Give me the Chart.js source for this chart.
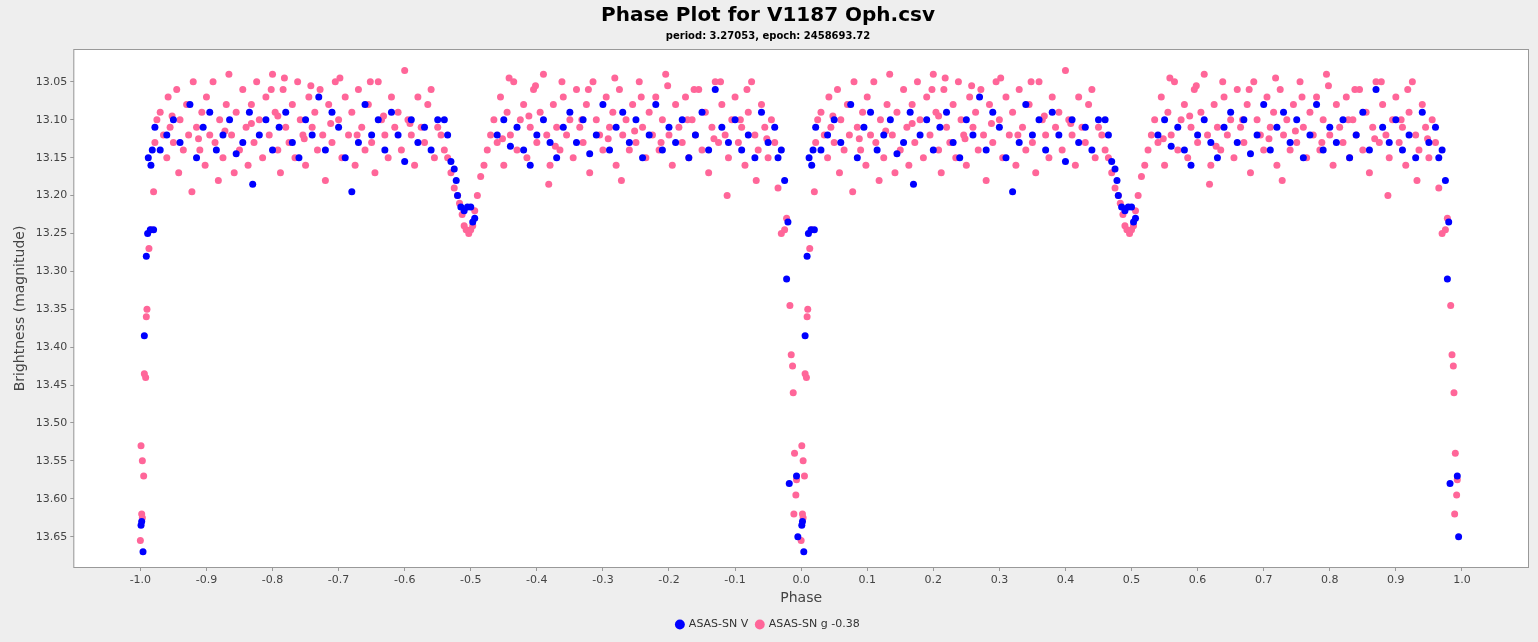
<!DOCTYPE html>
<html>
<head>
<meta charset="utf-8">
<script src="https://cdn.jsdelivr.net/npm/chart.js@4/dist/chart.umd.min.js"></script>
<style>
html,body{margin:0;padding:0;background:#eeeeee;}
#wrap{width:1538px;height:642px;}
</style>
</head>
<body>
<div id="wrap"><canvas id="phaseChart"></canvas></div>
<script>
// phase 0..1 values (plotted again at phase-1)
const vPhase = [0.03,0.04,0.05,0.06,0.075,0.085,0.095,0.105,0.115,0.125,0.135,0.145,0.155,0.165,0.17,0.18,0.19,0.2,0.21,0.22,0.23,0.24,0.25,0.26,0.27,0.28,0.29,0.3,0.31,0.32,0.33,0.34,0.35,0.36,0.37,0.38,0.39,0.4,0.41,0.42,0.43,0.44,0.45,
  0.46,0.465,0.47,0.475,0.478,0.48,0.485,0.49,0.495,0.5,0.503,0.506,
  0.54,0.55,0.56,0.57,0.58,0.59,0.6,0.61,0.62,0.63,0.64,0.65,0.66,0.67,0.68,0.69,0.7,0.71,0.72,0.73,0.74,0.75,0.76,0.77,0.78,0.79,0.8,0.81,0.82,0.83,0.84,0.85,0.86,0.87,0.88,0.89,0.9,0.91,0.92,0.93,0.94,0.95,0.96,0.965,0.97,
  0.975,0.978,0.98,0.982,0.993,0.995,0.001,0.002,0.004,0.006,0.009,0.011,0.015,0.02,0.012,0.016,0.018,0.022];
const vMag = [13.14,13.12,13.10,13.13,13.08,13.15,13.11,13.09,13.14,13.12,13.10,13.145,13.13,13.09,13.185,13.12,13.10,13.14,13.11,13.09,13.13,13.15,13.10,13.12,13.07,13.14,13.09,13.11,13.15,13.195,13.13,13.08,13.12,13.10,13.14,13.09,13.12,13.155,13.10,13.13,13.11,13.14,13.10,
  13.10,13.12,13.155,13.165,13.18,13.20,13.215,13.22,13.215,13.215,13.235,13.23,
  13.12,13.10,13.135,13.11,13.14,13.16,13.12,13.10,13.13,13.15,13.11,13.09,13.13,13.10,13.145,13.12,13.08,13.14,13.11,13.09,13.13,13.10,13.15,13.12,13.08,13.14,13.11,13.13,13.10,13.15,13.12,13.09,13.14,13.06,13.11,13.13,13.10,13.14,13.12,13.15,13.09,13.13,13.11,13.15,13.14,
  13.18,13.31,13.235,13.58,13.57,13.65,13.635,13.63,13.67,13.385,13.28,13.25,13.245,13.245,13.15,13.16,13.14,13.11];

const gPhase = [0.97,0.975,0.978,0.983,0.985,0.987,0.988,0.99,0.989,0.992,0.993,
  0.0,0.002,0.003,0.001,0.003,0.005,0.006,0.008,0.009,0.01,0.013,0.016,0.02,0.022,0.025,
  0.47,0.475,0.48,0.483,0.487,0.49,0.493,0.497,0.5,0.503,0.506,0.51,0.515,0.52,0.465,0.46,0.525,0.53,
  0.03,0.035,0.04,0.042,0.045,0.05,0.055,0.058,0.06,0.065,0.07,0.073,0.078,0.08,0.085,0.09,0.093,0.098,0.1,0.105,0.11,0.113,0.118,0.12,0.125,0.13,0.134,0.138,0.142,0.145,0.15,0.155,0.16,0.163,0.168,0.172,0.176,0.18,0.185,0.19,0.195,0.2,0.204,0.208,0.212,0.216,0.22,0.225,0.23,0.234,0.238,0.242,0.246,0.25,0.255,0.26,0.264,0.268,0.272,0.276,0.28,0.285,0.29,0.295,0.3,0.305,0.31,0.315,0.32,0.325,0.33,0.335,0.34,0.345,0.35,0.355,0.36,0.365,0.37,0.375,0.38,0.385,0.39,0.395,0.4,0.405,0.41,0.415,0.42,0.425,0.43,0.435,0.44,0.445,0.45,0.455,
  0.048,0.088,0.128,0.168,0.208,0.248,0.288,0.328,0.368,0.408,0.198,0.218,0.258,0.348,0.302,
  0.535,0.54,0.545,0.55,0.555,0.56,0.565,0.57,0.575,0.58,0.585,0.59,0.595,0.6,0.605,0.61,0.615,0.62,0.625,0.63,0.635,0.64,0.645,0.65,0.655,0.66,0.665,0.67,0.675,0.68,0.685,0.69,0.695,0.7,0.705,0.71,0.715,0.72,0.725,0.73,0.735,0.74,0.745,0.75,0.755,0.76,0.765,0.77,0.775,0.78,0.785,0.79,0.795,0.8,0.805,0.81,0.815,0.82,0.825,0.83,0.835,0.84,0.845,0.85,0.855,0.86,0.865,0.87,0.875,0.88,0.885,0.89,0.895,0.9,0.905,0.91,0.915,0.92,0.925,0.93,0.935,0.94,0.945,0.95,0.955,0.96,0.965,
  0.558,0.598,0.638,0.678,0.718,0.758,0.798,0.838,0.878,0.918,0.548,0.588,0.628,0.668,0.708,0.748,0.788,0.828,0.868,0.908,0.948,0.618,0.728,0.888,0.932];
const gMag = [13.25,13.245,13.23,13.345,13.41,13.425,13.46,13.54,13.62,13.595,13.575,
  13.655,13.62,13.625,13.53,13.55,13.57,13.435,13.44,13.36,13.35,13.27,13.245,13.195,13.13,13.10,
  13.17,13.19,13.20,13.21,13.225,13.24,13.245,13.25,13.245,13.24,13.22,13.20,13.175,13.16,13.15,13.14,13.14,13.12,
  13.09,13.12,13.15,13.07,13.11,13.13,13.06,13.17,13.10,13.14,13.08,13.12,13.195,13.05,13.11,13.14,13.09,13.16,13.07,13.12,13.05,13.13,13.18,13.10,13.15,13.08,13.04,13.12,13.17,13.09,13.14,13.06,13.11,13.16,13.08,13.13,13.05,13.10,13.15,13.07,13.12,13.04,13.09,13.14,13.17,13.06,13.11,13.13,13.08,13.15,13.05,13.10,13.12,13.16,13.07,13.11,13.09,13.14,13.06,13.12,13.18,13.08,13.13,13.05,13.10,13.15,13.07,13.12,13.09,13.16,13.06,13.11,13.14,13.08,13.13,13.17,13.05,13.10,13.12,13.15,13.07,13.11,13.09,13.14,13.035,13.10,13.12,13.16,13.07,13.11,13.13,13.08,13.06,13.15,13.11,13.12,
  13.095,13.125,13.115,13.105,13.095,13.125,13.105,13.12,13.095,13.105,13.06,13.045,13.055,13.05,13.045,
  13.10,13.13,13.07,13.16,13.09,13.12,13.05,13.14,13.10,13.08,13.15,13.11,13.06,13.13,13.09,13.04,13.12,13.16,13.08,13.11,13.14,13.07,13.12,13.10,13.15,13.06,13.11,13.13,13.08,13.17,13.05,13.10,13.12,13.14,13.07,13.11,13.09,13.16,13.06,13.12,13.10,13.14,13.08,13.13,13.05,13.11,13.15,13.09,13.12,13.07,13.14,13.10,13.04,13.12,13.16,13.08,13.11,13.13,13.07,13.15,13.10,13.12,13.06,13.14,13.09,13.17,13.11,13.05,13.13,13.08,13.12,13.15,13.10,13.07,13.13,13.11,13.16,13.09,13.05,13.12,13.14,13.08,13.11,13.15,13.10,13.13,13.19,
  13.045,13.055,13.05,13.06,13.045,13.07,13.055,13.06,13.05,13.06,13.125,13.095,13.135,13.10,13.125,13.115,13.13,13.10,13.125,13.10,13.125,13.185,13.18,13.20,13.18];

const xTicks = [-1.0,-0.9,-0.8,-0.7,-0.6,-0.5,-0.4,-0.3,-0.2,-0.1,0.0,0.1,0.2,0.3,0.4,0.5,0.6,0.7,0.8,0.9,1.0];
const yTicks = [13.05,13.10,13.15,13.20,13.25,13.30,13.35,13.40,13.45,13.50,13.55,13.60,13.65];

function toPoints(ph, mag) {
    const pts = [];
    ph.forEach((p,i) => {
        pts.push({x:p, y:mag[i]});
        pts.push({x:p-1, y:mag[i]});
    });
    return pts;
}

// backgrounds: grey outside, white plot area
const bgPlugin = {
    id:'bg',
    beforeDraw(chart){
        const c = chart.ctx, a = chart.chartArea;
        c.save();
        c.fillStyle = '#eeeeee';
        c.fillRect(0,0,chart.width,chart.height);
        c.fillStyle = '#ffffff';
        c.fillRect(a.left,a.top,a.right-a.left,a.bottom-a.top);
        c.strokeStyle = '#999999';
        c.lineWidth = 1;
        c.strokeRect(a.left-0.5,a.top-0.5,a.right-a.left+1,a.bottom-a.top+1);
        c.restore();
    }
};

const font = "'DejaVu Sans', sans-serif";
new Chart(document.getElementById('phaseChart'), {
    type:'scatter',
    data:{ datasets:[
        {label:'ASAS-SN V', data:toPoints(vPhase,vMag), backgroundColor:'#0000ff', borderWidth:0, pointRadius:3.5, pointHoverRadius:3.5},
        {label:'ASAS-SN g -0.38', data:toPoints(gPhase,gMag), backgroundColor:'#ff6699', borderWidth:0, pointRadius:3.5, pointHoverRadius:3.5}
    ]},
    options:{
        responsive:true, maintainAspectRatio:false, animation:false,
        layout:{padding:{left:8,right:10,top:0,bottom:2}},
        plugins:{
            title:{display:true, text:'Phase Plot for V1187 Oph.csv', color:'#000', font:{family:font,size:20,weight:'bold'}, padding:{top:4,bottom:2}},
            subtitle:{display:true, text:'period: 3.27053, epoch: 2458693.72', color:'#000', font:{family:font,size:10,weight:'bold'}, padding:{bottom:8}},
            legend:{position:'bottom', labels:{usePointStyle:true, pointStyle:'circle', boxWidth:7, boxHeight:7, color:'#333', font:{family:font,size:11}, padding:8}},
            tooltip:{enabled:false}
        },
        scales:{
            x:{min:-1.1, max:1.1,
               afterBuildTicks:axis => { axis.ticks = xTicks.map(v => ({value:v})); },
               ticks:{callback:v => Number(v).toFixed(1), color:'#444', font:{family:font,size:11}, maxRotation:0, autoSkip:false},
               grid:{drawOnChartArea:false, tickLength:4, color:'#999'}, border:{display:false},
               title:{display:true, text:'Phase', color:'#444', font:{family:font,size:14}, padding:{top:0}}},
            y:{reverse:true, min:13.008, max:13.69,
               afterBuildTicks:axis => { axis.ticks = yTicks.map(v => ({value:v})); },
               ticks:{callback:v => Number(v).toFixed(2), color:'#444', font:{family:font,size:11}, autoSkip:false},
               grid:{drawOnChartArea:false, tickLength:4, color:'#999'}, border:{display:false},
               title:{display:true, text:'Brightness (magnitude)', color:'#444', font:{family:font,size:14}}}
        }
    },
    plugins:[bgPlugin]
});
</script>
</body>
</html>
